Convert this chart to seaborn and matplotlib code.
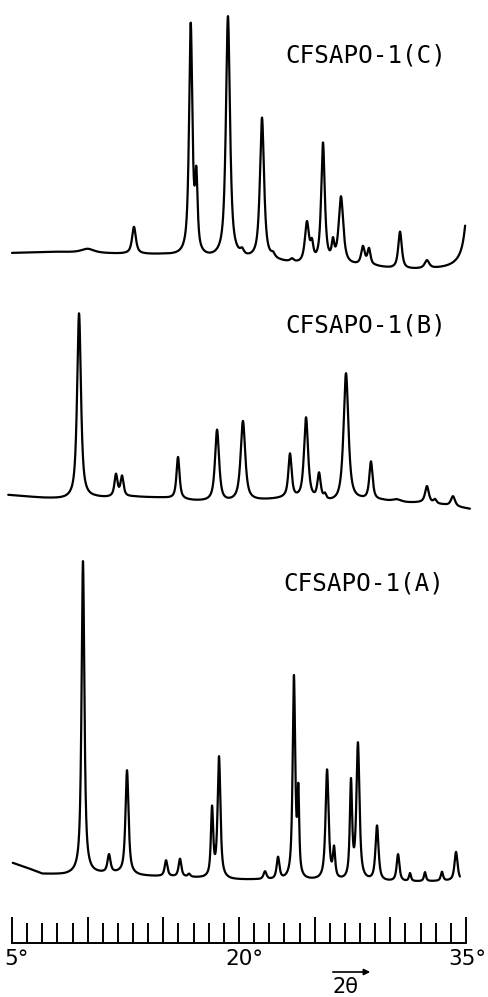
import numpy as np
import pandas as pd
import matplotlib
matplotlib.use("Agg")
import matplotlib.pyplot as plt
import seaborn as sns
from matplotlib.ticker import FixedLocator, FixedFormatter
import matplotlib.transforms as mtransforms

# ---------------- data ----------------
# 2-theta scale
major_ticks = [5, 10, 15, 20, 25, 30, 35]
minor_ticks = list(range(5, 36))
tick_labels = ["5°", "", "", "20°", "", "", "35°"]

# Sample C (top trace): peak positions (deg 2theta), heights, half-widths
c_label = "CFSAPO-1(C)"
c_pos = [10.0, 13.06, 16.81, 17.18, 19.27, 20.2, 21.52, 22.25, 23.5, 24.49, 24.82,
         25.55, 26.21, 26.74, 28.19, 28.59, 30.64, 32.42, 35.45]
c_hgt = [4, 27, 230, 70, 242, 5, 142, 4, 3, 40, 16, 120, 18, 67, 18, 16, 37, 8, 190]
c_wid = [0.5, 0.15, 0.13, 0.1, 0.16, 0.14, 0.16, 0.14, 0.14, 0.16, 0.11, 0.14,
         0.1, 0.18, 0.14, 0.12, 0.14, 0.18, 0.3]
c_base_x = [5.0, 8.0, 12.0, 15.0, 18.0, 20.0, 22.5, 24.0, 27.0, 29.0, 30.0, 31.0, 34.2, 35.0]
c_base_y = [17, 18, 16, 15, 11, 10, 8, 5, 4, 3, 1, 0, 0, 0]
c_span = (5.0, 34.94)
c_zero = 727

# Sample B (middle trace)
b_label = "CFSAPO-1(B)"
b_pos = [9.43, 11.87, 12.27, 15.97, 18.55, 20.26, 23.37, 24.43, 25.29, 25.68,
         27.07, 28.72, 30.44, 32.42, 32.95, 34.14]
b_hgt = [186, 22, 20, 42, 72, 80, 44, 82, 26, 5, 129, 38, 3, 17, 4, 10]
b_wid = [0.15, 0.12, 0.12, 0.12, 0.16, 0.18, 0.13, 0.16, 0.13, 0.1, 0.19, 0.13,
         0.35, 0.15, 0.12, 0.16]
b_base_x = [4.75, 7.0, 9.0, 10.5, 11.3, 13.0, 15.0, 17.0, 19.0, 22.0, 23.0, 26.5,
            28.0, 29.5, 30.5, 32.0, 33.5, 35.26]
b_base_y = [15, 12, 10, 12, 12, 13, 12, 9, 7, 10, 11, 6, 9, 9, 7, 7, 5, 1]
b_span = (4.75, 35.26)
b_zero = 487

# Sample A (bottom trace)
a_label = "CFSAPO-1(A)"
a_pos = [9.69, 11.41, 12.60, 15.18, 16.10, 16.70, 18.22, 18.68, 21.72, 22.58,
         23.63, 23.92, 25.82, 26.28, 27.40, 27.86, 29.12, 30.51, 31.30, 32.29,
         33.41, 34.34]
a_hgt = [313, 18, 104, 16, 18, 3, 68, 121, 8, 22, 202, 80, 110, 29, 96, 136, 55,
         27, 8, 9, 9, 29]
a_wid = [0.11, 0.12, 0.12, 0.11, 0.11, 0.1, 0.09, 0.11, 0.12, 0.11, 0.1, 0.07,
         0.12, 0.09, 0.09, 0.12, 0.12, 0.11, 0.08, 0.08, 0.09, 0.12]
a_base_x = [5.05, 6.0, 7.0, 8.5, 10.5, 12.0, 13.5, 17.0, 19.5, 21.0, 23.0, 25.0,
            27.0, 29.5, 31.0, 34.6]
a_base_y = [22, 17, 11, 10, 11, 11, 9, 7, 5, 5, 4, 4, 3, 3, 3, 4]
a_span = (5.05, 34.6)
a_zero = 112

# ---------------- build traces ----------------
def profile(x, pos, hgt, wid, eta=0.8):
    y = np.zeros_like(x)
    for p, h, w in zip(pos, hgt, wid):
        d = (x - p) / w
        lor = 1.0 / (1.0 + d ** 2)
        gau = np.exp(-np.log(2) * d ** 2)
        y += h * (eta * lor + (1 - eta) * gau)
    return y

frames = []
samples = [
    (c_label, c_pos, c_hgt, c_wid, c_base_x, c_base_y, c_span, c_zero),
    (b_label, b_pos, b_hgt, b_wid, b_base_x, b_base_y, b_span, b_zero),
    (a_label, a_pos, a_hgt, a_wid, a_base_x, a_base_y, a_span, a_zero),
]
for lab, pos, hgt, wid, bx, by, span, zero in samples:
    x = np.linspace(span[0], span[1], 4000)
    y = zero + np.interp(x, bx, by) + profile(x, pos, hgt, wid)
    frames.append(pd.DataFrame({"two_theta": x, "intensity": y, "sample": lab}))
df = pd.concat(frames, ignore_index=True)

# ---------------- plot ----------------
sns.set_style("white")
plt.rcParams["font.family"] = ["DejaVu Sans"]
plt.rcParams["text.color"] = "black"
plt.rcParams["xtick.color"] = "black"
plt.rcParams["xtick.labelcolor"] = "black"

W, H = 488, 997
fig = plt.figure(figsize=(W / 100, H / 100), dpi=100)
ax = fig.add_axes([0, 0, 1, 1])
px_per_deg = (466 - 12) / 30.0
ax.set_xlim(5 - 12 / px_per_deg, 35 + (W - 466) / px_per_deg)
ax.set_ylim(0, H)

sns.lineplot(data=df, x="two_theta", y="intensity", units="sample",
             estimator=None, sort=False, color="black", lw=1.6, ax=ax,
             legend=False)

# sample labels
label_pos = {c_label: (285, 55), b_label: (285, 325), a_label: (283, 583)}
for lab, (lx, ly) in label_pos.items():
    ax.text(lx / W, 1 - ly / H, lab, transform=ax.transAxes,
            family="DejaVu Sans Mono", fontsize=17.5, ha="left", va="center",
            color="black")

# 2-theta scale along bottom
for s in ["left", "right", "top"]:
    ax.spines[s].set_visible(False)
axis_y = H - 943
ax.spines["bottom"].set_position(("data", axis_y))
ax.spines["bottom"].set_bounds(5, 35)
ax.spines["bottom"].set_linewidth(1.4)
ax.spines["bottom"].set_color("black")
ax.xaxis.set_major_locator(FixedLocator(major_ticks))
ax.xaxis.set_major_formatter(FixedFormatter(tick_labels))
ax.xaxis.set_minor_locator(FixedLocator(minor_ticks))
ax.tick_params(axis="x", which="major", direction="in", length=18.5, width=1.4,
               color="black", labelcolor="black", labelsize=15.5, pad=4,
               bottom=True)
ax.tick_params(axis="x", which="minor", direction="in", length=14.4, width=1.4,
               color="black", bottom=True)
ax.set_yticks([])
ax.set_xlabel("")
ax.set_ylabel("")
shifts = {"5°": 4, "20°": 5, "35°": 1}
for t in ax.get_xticklabels():
    dx = shifts.get(t.get_text(), 0)
    off = mtransforms.ScaledTranslation(dx / 100, 0, fig.dpi_scale_trans)
    t.set_transform(t.get_transform() + off)

# 2theta direction label with arrow
fig.text(345 / W, 1 - 987 / H, "2θ", fontsize=15, ha="center", va="center",
         color="black")
ax.annotate("", xy=(373 / W, 1 - 972 / H), xytext=(330 / W, 1 - 972 / H),
            xycoords="figure fraction", textcoords="figure fraction",
            arrowprops=dict(arrowstyle="-|>", lw=1.2, color="black",
                            mutation_scale=9))

fig.savefig("out.png", dpi=100, facecolor="white")
